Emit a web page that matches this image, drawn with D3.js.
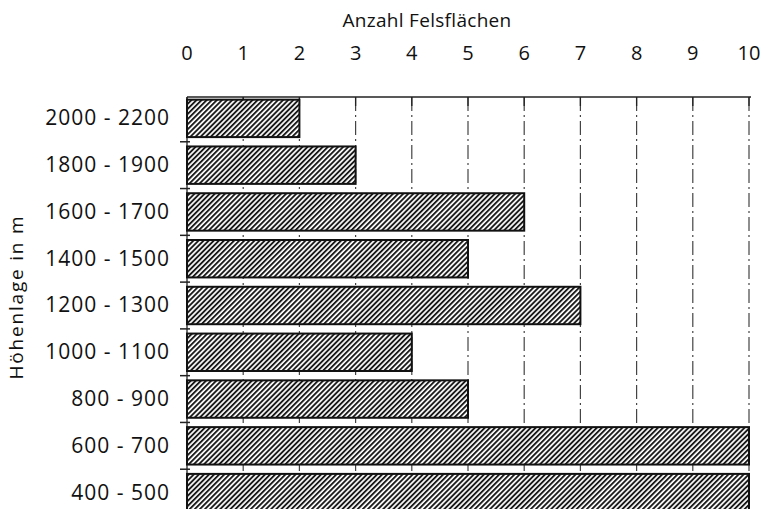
<!DOCTYPE html>
<html><head><meta charset="utf-8">
<script src="https://cdn.jsdelivr.net/npm/d3@7"></script>
<style>body{margin:0;background:#fff}svg{display:block}text{font-family:"Open Sans","DejaVu Sans",sans-serif;fill:#111}</style>
</head><body>
<script>
const categories = ["2000 - 2200","1800 - 1900","1600 - 1700","1400 - 1500","1200 - 1300","1000 - 1100","800 - 900","600 - 700","400 - 500"];
const values = [2,3,6,5,7,4,5,10,10];
const xTicks = [0,1,2,3,4,5,6,7,8,9,10];
const xTitle = "Anzahl Felsflächen";
const yTitle = "Höhenlage in m";

const W=764,H=509;
const svg=d3.select("body").append("svg").attr("width",W).attr("height",H);
const defs=svg.append("defs");
const pat=defs.append("pattern").attr("id","hatch").attr("patternUnits","userSpaceOnUse")
  .attr("width",3.6).attr("height",3.6).attr("patternTransform","rotate(45)");
pat.append("rect").attr("width",3.6).attr("height",3.6).attr("fill","#fff");
pat.append("rect").attr("x",0).attr("y",0).attr("width",1.9).attr("height",3.6).attr("fill","#1a1a1a");

const x=d3.scaleLinear().domain([0,10]).range([187,749]);
const y=d3.scaleBand().domain(categories).range([95,516]).paddingInner(0.2).paddingOuter(0.1);

// gridlines
svg.append("g").selectAll("line").data(xTicks.filter(d=>d>0)).join("line")
  .attr("x1",d=>x(d)).attr("x2",d=>x(d)).attr("y1",97).attr("y2",H)
  .attr("stroke","#444").attr("stroke-width",1.2).attr("stroke-dasharray","14,4,2,4");
// top axis line
svg.append("line").attr("x1",x(0)).attr("x2",x(10)+2).attr("y1",97).attr("y2",97)
  .attr("stroke","#222").attr("stroke-width",1.5);
// top tick marks
svg.append("g").selectAll("line").data(xTicks).join("line")
  .attr("x1",d=>x(d)).attr("x2",d=>x(d)).attr("y1",97).attr("y2",106)
  .attr("stroke","#222").attr("stroke-width",1.3);
// left axis line
svg.append("line").attr("x1",x(0)).attr("x2",x(0)).attr("y1",97).attr("y2",H)
  .attr("stroke","#222").attr("stroke-width",1.3);
// left tick marks at band boundaries
const step=y.step();
svg.append("g").selectAll("line").data(categories.slice(1)).join("line")
  .attr("x1",x(0)-7).attr("x2",x(0)+3)
  .attr("y1",d=>y(d)-step*0.1).attr("y2",d=>y(d)-step*0.1)
  .attr("stroke","#222").attr("stroke-width",1.5);

// bars
svg.append("g").selectAll("rect").data(categories).join("rect")
  .attr("x",x(0)).attr("y",d=>y(d))
  .attr("width",(d,i)=>x(values[i])-x(0)).attr("height",y.bandwidth())
  .attr("fill","url(#hatch)").attr("stroke","#111").attr("stroke-width",2);

// top tick labels
svg.append("g").selectAll("text").data(xTicks).join("text")
  .attr("x",d=>x(d)).attr("y",60).attr("text-anchor","middle")
  .attr("font-size",20).text(d=>d);
// category labels
svg.append("g").selectAll("text").data(categories).join("text")
  .attr("x",170).attr("y",d=>y(d)+y.bandwidth()/2).attr("dy","0.33em")
  .attr("text-anchor","end").attr("font-size",21).attr("letter-spacing",1).text(d=>d);
// titles
svg.append("text").attr("x",427).attr("y",27).attr("text-anchor","middle")
  .attr("font-size",19).attr("letter-spacing",0.3).text(xTitle);
svg.append("text").attr("transform","translate(23,297) rotate(-90)")
  .attr("text-anchor","middle").attr("font-size",19).attr("letter-spacing",1.8).text(yTitle);
</script>
</body></html>
